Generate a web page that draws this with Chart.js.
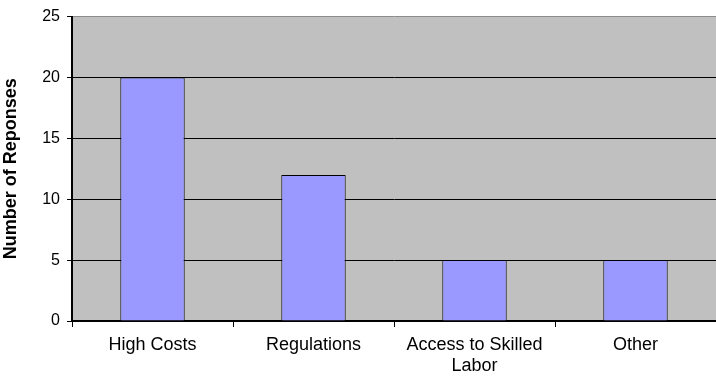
<!DOCTYPE html>
<html>
<head>
<meta charset="utf-8">
<script src="https://cdn.jsdelivr.net/npm/chart.js@4/dist/chart.umd.min.js"></script>
<style>
  html, body { margin: 0; padding: 0; background: #fff; }
  #wrap { width: 716px; height: 378px; }
</style>
</head>
<body>
<div id="wrap"><canvas id="chart"></canvas></div>
<script>
const categories = ["High Costs", "Regulations", ["Access to Skilled", "Labor"], "Other"];
const responses = [20, 12, 5, 5];
const yTicks = [0, 5, 10, 15, 20, 25];

// gray plot background like the old spreadsheet chart
const plotBg = {
  id: "plotBg",
  beforeDraw(chart) {
    const { ctx, chartArea: a } = chart;
    ctx.save();
    ctx.fillStyle = "#C0C0C0";
    ctx.fillRect(a.left, a.top, a.right - a.left, a.bottom - a.top);
    ctx.restore();
  },
};

Chart.defaults.font.family = "Arial, 'Liberation Sans', sans-serif";
Chart.defaults.color = "#000";

new Chart(document.getElementById("chart"), {
  type: "bar",
  data: {
    labels: categories,
    datasets: [
      {
        label: "Number of Reponses",
        data: responses,
        backgroundColor: "#9999FF",
        borderColor: "#000",
        borderWidth: 1,
        barPercentage: 0.4,
        categoryPercentage: 1,
      },
    ],
  },
  options: {
    responsive: true,
    maintainAspectRatio: false,
    animation: false,
    layout: { padding: { top: 7, right: -3, bottom: 0, left: 0 } },
    plugins: { legend: { display: false }, tooltip: { enabled: false } },
    scales: {
      x: {
        offset: true,
        grid: {
          offset: true,
          drawOnChartArea: false,
          color: "#000",
          tickLength: 6,
        },
        border: { color: "#000", width: 2 },
        ticks: { font: { size: 18, lineHeight: 1.15 }, padding: 8, maxRotation: 0 },
        afterFit(scale) {
          scale.height = 57;
        },
      },
      y: {
        min: 0,
        max: 25,
        afterBuildTicks(scale) {
          scale.ticks = yTicks.map((v) => ({ value: v }));
        },
        grid: {
          color: (c) => (c.tick && c.tick.value === 25 ? "#8C8C8C" : "#000"),
          tickColor: "#000",
          tickLength: 5,
        },
        border: { color: "#000", width: 2 },
        ticks: { font: { size: 16 }, padding: 7 },
        title: {
          display: true,
          text: "Number of Reponses",
          font: { size: 18, weight: "bold" },
          padding: 0,
        },
        afterFit(scale) {
          scale.width = 72;
        },
      },
    },
  },
  plugins: [plotBg],
});
</script>
</body>
</html>
